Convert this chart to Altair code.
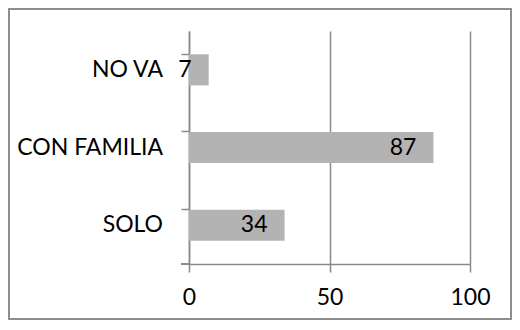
import altair as alt
import pandas as pd

categories = ["NO VA", "CON FAMILIA", "SOLO"]
values = [7, 87, 34]
x_ticks = [0, 50, 100]

df = pd.DataFrame({"cat": categories, "val": values})

FONT = "Lato"
FS = 23
GRAY = "#898989"

W, H = 281, 233

base = alt.Chart(df)

yenc = alt.Y("cat:N", sort=categories, scale=alt.Scale(paddingInner=0.6, paddingOuter=0.3),
             axis=alt.Axis(title=None, labels=False, bandPosition=0, tickSize=8,
                           tickColor=GRAY, domainColor=GRAY, tickWidth=1.5, domainWidth=1.5))

bars = base.mark_bar(color="#b3b3b3").encode(
    x=alt.X("val:Q", scale=alt.Scale(domain=[0, 100], nice=False),
            axis=alt.Axis(title=None, values=x_ticks, tickSize=8, tickColor=GRAY,
                          domainColor=GRAY, gridColor=GRAY, grid=True, gridWidth=1.5,
                          tickWidth=1.5, domainWidth=1.5, labelFont=FONT, labelFontSize=FS,
                          labelColor="#000000", labelPadding=14, labelFlush=False)),
    y=yenc,
)

vals = base.mark_text(align="right", baseline="middle", dx=-17, font=FONT, fontSize=FS,
                      color="#000000").encode(
    x="val:Q", y=alt.Y("cat:N", sort=categories), text="val:Q")

cats = base.mark_text(align="right", baseline="middle", font=FONT, fontSize=FS,
                      color="#000000").encode(
    x=alt.value(-26), y=alt.Y("cat:N", sort=categories), text="cat:N")

bottom_tick = base.mark_rule(color=GRAY, strokeWidth=1.5).encode(
    x=alt.value(-8), x2=alt.value(0), y=alt.value(H))

border = base.mark_rect(fill=None, stroke="#8c8c8c", strokeWidth=1.5).encode(
    x=alt.value(-180), x2=alt.value(W + 41), y=alt.value(-22), y2=alt.value(H + 55))

chart = alt.layer(bars, vals, cats, bottom_tick, border).properties(
    width=W, height=H,
    autosize=alt.AutoSizeParams(type="none"),
    padding={"left": 181, "top": 23, "right": 42, "bottom": 56},
).configure_view(stroke=None).configure_axis(grid=False)

chart.save("out.html", embed_options={"renderer": "svg", "actions": False})
